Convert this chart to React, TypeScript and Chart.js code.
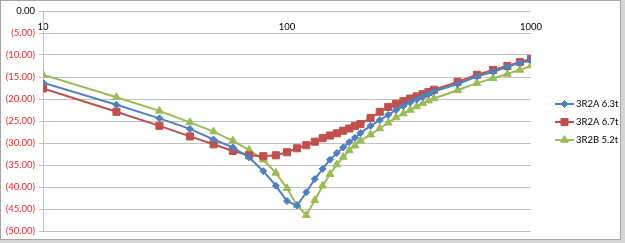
import React, { useEffect, useRef } from "react";
import { Chart, registerables } from "chart.js";

Chart.register(...registerables);

// ---- data ----
const xValues = [
  10, 20, 30, 40, 50, 60, 70, 80, 90, 100,
  110, 120, 130, 140, 150, 160, 170, 180, 190, 200,
  220, 240, 260, 280, 300, 320, 340, 360, 380, 400,
  500, 600, 700, 800, 900, 1000,
];

const series3R2A63 = [
  -16.3, -21.3, -24.4, -26.8, -29.2, -31.0, -33.3, -36.4, -39.7, -43.2,
  -44.2, -41.2, -38.2, -35.9, -33.8, -32.3, -31.0, -29.8, -28.8, -27.7,
  -26.1, -24.8, -23.6, -22.5, -21.6, -20.8, -20.1, -19.5, -18.9, -18.3,
  -16.6, -14.9, -13.8, -12.7, -11.8, -11.2,
];

const series3R2A67 = [
  -17.6, -22.9, -26.1, -28.5, -30.3, -31.8, -32.8, -33.0, -32.8, -32.1,
  -31.2, -30.5, -29.7, -28.9, -28.3, -27.8, -27.2, -26.7, -26.1, -25.7,
  -24.3, -22.9, -21.8, -21.1, -20.5, -19.9, -19.4, -18.9, -18.4, -17.9,
  -16.1, -14.5, -13.4, -12.5, -11.6, -10.9,
];

const series3R2B52 = [
  -14.5, -19.6, -22.7, -25.3, -27.4, -29.5, -31.6, -33.8, -36.8, -40.3,
  -44.2, -46.4, -43.0, -39.7, -37.1, -34.9, -33.2, -31.7, -30.6, -29.5,
  -28.1, -26.7, -25.4, -24.2, -23.3, -22.5, -21.7, -21.0, -20.4, -19.9,
  -18.0, -16.4, -15.3, -14.3, -13.4, -12.4,
];

const seriesLabels = ["3R2A 6.3t", "3R2A 6.7t", "3R2B 5.2t"];
const xTickValues = [10, 100, 1000];
const yMin = -50;
const yMax = 0;
const yStep = 5;

// ---- styles ----
const BLUE = "#4F81BD";
const RED = "#C0504D";
const GREEN = "#9BBB59";
const FONT_FAMILY = "Lato, 'Open Sans', sans-serif";

const framePlugin = {
  id: "frame",
  beforeDraw(chart: any) {
    const c = chart.ctx;
    c.save();
    c.fillStyle = "#ffffff";
    c.fillRect(0, 0, chart.width, chart.height);
    c.restore();
  },
  afterDraw(chart: any) {
    const c = chart.ctx;
    c.save();
    c.fillStyle = "#d4d4d4";
    c.fillRect(621, 0, 4, 243);
    c.fillRect(0, 240, 625, 3);
    c.strokeStyle = "#a6a6a6";
    c.lineWidth = 1;
    c.strokeRect(0.5, 0.5, 620, 239);
    c.restore();
  },
};

function drawMarker(c: CanvasRenderingContext2D, style: string, x: number, y: number, r: number, color: string) {
  c.fillStyle = color;
  c.strokeStyle = color;
  c.beginPath();
  if (style === "rectRot") {
    c.moveTo(x, y - r);
    c.lineTo(x + r, y);
    c.lineTo(x, y + r);
    c.lineTo(x - r, y);
    c.closePath();
  } else if (style === "rect") {
    const s = r * Math.SQRT1_2;
    c.rect(x - s, y - s, 2 * s, 2 * s);
  } else {
    const h = r;
    c.moveTo(x, y - h);
    c.lineTo(x + h * 0.866, y + h * 0.5);
    c.lineTo(x - h * 0.866, y + h * 0.5);
    c.closePath();
  }
  c.fill();
  c.stroke();
}

const legendPlugin = {
  id: "sideLegend",
  afterDraw(chart: any) {
    const c = chart.ctx;
    const rows = [104, 122, 140];
    c.save();
    chart.data.datasets.forEach((ds: any, i: number) => {
      const y = rows[i];
      c.strokeStyle = ds.borderColor;
      c.lineWidth = 2;
      c.beginPath();
      c.moveTo(555, y);
      c.lineTo(574, y);
      c.stroke();
      c.lineWidth = 1;
      drawMarker(c, ds.pointStyle, 564.5, y, ds.pointRadius, ds.borderColor);
      c.fillStyle = "#000000";
      c.font = `9.5px ${FONT_FAMILY}`;
      c.textBaseline = "middle";
      c.textAlign = "left";
      c.fillText(ds.label, 576, y);
    });
    c.restore();
  },
};

function toPoints(values: number[]) {
  return values.map((v, i) => ({ x: xValues[i], y: v }));
}

export default function App() {
  const canvasRef = useRef<HTMLCanvasElement>(null);

  useEffect(() => {
    document.body.style.margin = "0";
    const canvas = canvasRef.current;
    if (!canvas) return;

    const mkDataset = (label: string, values: number[], color: string, pointStyle: string, radius: number) => ({
      label,
      data: toPoints(values),
      borderColor: color,
      backgroundColor: color,
      pointBackgroundColor: color,
      pointBorderColor: color,
      pointBorderWidth: 1,
      pointStyle,
      pointRadius: radius,
      borderWidth: 2,
      tension: 0,
      fill: false,
    });

    const chart = new Chart(canvas, {
      type: "line",
      data: {
        datasets: [
          mkDataset(seriesLabels[0], series3R2A63, BLUE, "rectRot", 3.5),
          mkDataset(seriesLabels[1], series3R2A67, RED, "rect", 5),
          mkDataset(seriesLabels[2], series3R2B52, GREEN, "triangle", 4.5),
        ] as any,
      },
      options: {
        animation: false,
        responsive: false,
        devicePixelRatio: 1,
        layout: { padding: { left: 0, top: 11, right: 94, bottom: 12 } },
        plugins: {
          legend: { display: false },
          tooltip: { enabled: false },
        },
        scales: {
          x: {
            type: "logarithmic",
            min: 10,
            max: 1000,
            position: { y: 0 } as any,
            grid: { display: false, drawTicks: false },
            border: { display: false },
            afterBuildTicks: (scale: any) => {
              scale.ticks = xTickValues.map((v) => ({ value: v }));
            },
            ticks: {
              autoSkip: false,
              maxRotation: 0,
              minRotation: 0,
              padding: 10,
              color: "#000000",
              font: { family: FONT_FAMILY, size: 9.5 },
              callback: (v: any) => String(v),
            },
          },
          y: {
            min: yMin,
            max: yMax,
            afterFit: (scale: any) => {
              scale.width = 43;
            },
            grid: { color: "#c0c0c0", tickLength: 4, lineWidth: 1 },
            border: { color: "#c0c0c0" },
            ticks: {
              stepSize: yStep,
              padding: 4,
              font: { family: FONT_FAMILY, size: 9.5 },
              color: (ctx: any) => (ctx.tick && ctx.tick.value < 0 ? "#f0282d" : "#000000"),
              callback: (v: any) => (v === 0 ? "0.00" : `(${Math.abs(v).toFixed(2)})`),
            },
          },
        },
      },
      plugins: [framePlugin, legendPlugin],
    } as any);

    return () => chart.destroy();
  }, []);

  return (
    <div style={{ width: 625, height: 243 }}>
      <canvas ref={canvasRef} width={625} height={243} style={{ display: "block" }} />
    </div>
  );
}
